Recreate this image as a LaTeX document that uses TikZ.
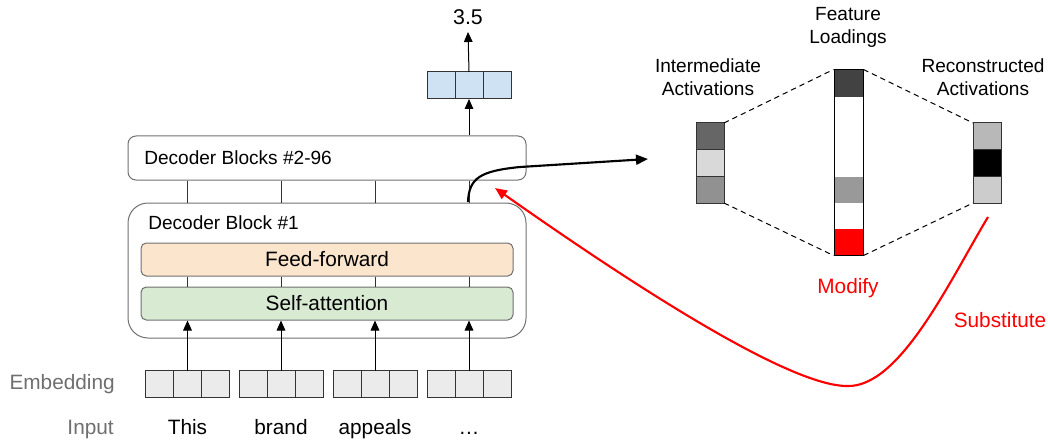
\documentclass[tikz,border=0pt]{standalone}
\usepackage{fontspec}
\setmainfont{Liberation Sans}
\usetikzlibrary{arrows.meta}
\definecolor{outblue}{HTML}{CFE2F3}
\definecolor{embgray}{HTML}{EBEBEB}
\definecolor{ffcol}{HTML}{FCE5CD}
\definecolor{sacol}{HTML}{D9EAD3}
\definecolor{lblgray}{HTML}{6F6F6F}
\definecolor{dk}{HTML}{333333}
\definecolor{boxgray}{HTML}{707070}
\definecolor{redc}{HTML}{FF0000}
\newcommand\pxu{0.75pt}
\newcommand\fsA{\fontsize{14.3}{17.25}\selectfont}
\newcommand\fsB{\fontsize{15.6}{18}\selectfont}
\begin{document}
\begin{tikzpicture}[x=0.75pt,y=-0.75pt,
  cell/.style={draw=dk,line width=0.75pt,minimum width=28*\pxu,minimum height=27*\pxu,inner sep=0pt,outer sep=0pt},
  vcell/.style={draw=dk,line width=0.75pt,minimum width=28*\pxu,minimum height=26.67*\pxu,inner sep=0pt,outer sep=0pt},
  arr/.style={line width=0.75pt,-{Triangle[length=7.5pt,width=6.5pt]}},
  thin/.style={line width=0.75pt,draw=dk},
  dashln/.style={line width=0.75pt,dash pattern=on 4pt off 3pt},
  lbl/.style={font=\fsA,inner sep=0pt,align=center},
  big/.style={font=\fsB,inner sep=0pt}]
\useasboundingbox (0,0) rectangle (1048,442);

% Decoder blocks
\node[draw=boxgray,line width=0.75pt,rounded corners=6pt,minimum width=398*\pxu,minimum height=44*\pxu,inner sep=0pt] (db2) at (327,158) {};
\node[lbl,anchor=west] (db2l) at (144,158) {Decoder Blocks \#2-96};
\node[draw=boxgray,line width=0.75pt,rounded corners=15pt,minimum width=398*\pxu,minimum height=135*\pxu,inner sep=0pt] (db1) at (327,270.5) {};
\node[lbl,anchor=west] (db1l) at (148,223) {Decoder Block \#1};
\node[draw=boxgray,line width=0.75pt,fill=ffcol,rounded corners=4pt,minimum width=372*\pxu,minimum height=33*\pxu,inner sep=0pt,font=\fsB] (ff) at (327,259.5) {Feed-forward};
\node[draw=boxgray,line width=0.75pt,fill=sacol,rounded corners=4pt,minimum width=372*\pxu,minimum height=33*\pxu,inner sep=0pt,font=\fsB] (sa) at (327,303.5) {Self-attention};

% Embeddings and inputs
\foreach \c/\n/\w in {187.5/1/This,281/2/brand,375/3/appeals,469/4/…}{
  \node[cell,fill=embgray] (e\n-a) at (\c-28,384) {};
  \node[cell,fill=embgray] (e\n-b) at (\c,384) {};
  \node[cell,fill=embgray] (e\n-c) at (\c+28,384) {};
  \draw[arr] (e\n-b.north) -- (e\n-b.north |- sa.south);
  \draw[thin] (e\n-b.north |- ff.south) -- (e\n-b.north |- sa.north);
  \draw[thin] (e\n-b.north |- db2.south) -- (e\n-b.north |- db1.north);
  \node[big,anchor=base] (w\n) at (\c,434) {\strut\w};
}
\node[big,anchor=east,text=lblgray] (emb) at (115,384) {Embedding};
\node[big,anchor=base east,text=lblgray] (inp) at (114,434) {\strut Input};

% Output
\node[cell,fill=outblue] (o1) at (441,85.5) {};
\node[cell,fill=outblue] (o2) at (469,85.5) {};
\node[cell,fill=outblue] (o3) at (497,85.5) {};
\draw[arr] (o2.south |- db2.north) -- (o2.south);
\node[font=\fontsize{16}{18}\selectfont,inner sep=1pt] (score) at (468,17) {3.5};
\coordinate (stip) at (468,32);
\draw[arr] (o2.north) -- (stip);

% Right side
\node[vcell,fill=black!60] (i1) at (710,136.33) {};
\node[vcell,fill=black!15] (i2) at (710,163) {};
\node[vcell,fill=black!43] (i3) at (710,189.67) {};
\node[vcell,fill=black!28] (r1) at (987,136.33) {};
\node[vcell,fill=black] (r2) at (987,163) {};
\node[vcell,fill=black!20] (r3) at (987,189.67) {};

\fill[black!74] (834,70) rectangle (863,97);
\fill[black!40] (834,177) rectangle (863,203);
\fill[redc] (834,229) rectangle (863,255);
\node[draw=black,line width=0.75pt,minimum width=29*\pxu,minimum height=185*\pxu,inner sep=0pt] (lb) at (848.5,162.5) {};

\draw[dashln] (i1.north east) -- (lb.north west);
\draw[dashln] (i3.south east) -- (lb.south west);
\draw[dashln] (lb.north east) -- (r1.north west);
\draw[dashln] (lb.south east) -- (r3.south west);

\node[lbl] (lint) at (708,77.5) {Intermediate\\Activations};
\node[lbl] (lfeat) at (848,27.5) {Feature\\Loadings};
\node[lbl] (lrec) at (983,77.5) {Reconstructed\\Activations};
\node[big,text=redc] (mod) at (848,288) {Modify};
\node[big,text=redc] (sub) at (1000,320) {Substitute};

% Black connector
\coordinate (bstart) at (468,202);
\coordinate (btip) at (648,159);
\draw[line width=1.6pt,-{Triangle[length=9pt,width=7.5pt]}] (bstart) .. controls (469,178) and (480,171) .. (520,167) -- (btip);

% Red connector
\coordinate (rstart) at (988,217);
\coordinate (rtip) at (495,188);
\draw[redc,line width=1.6pt,-{Triangle[length=9pt,width=7.5pt]}] (rstart) .. controls (950,280) and (900,388) .. (847,386) .. controls (790,386) and (640,290) .. (rtip);
\end{tikzpicture}
\end{document}
